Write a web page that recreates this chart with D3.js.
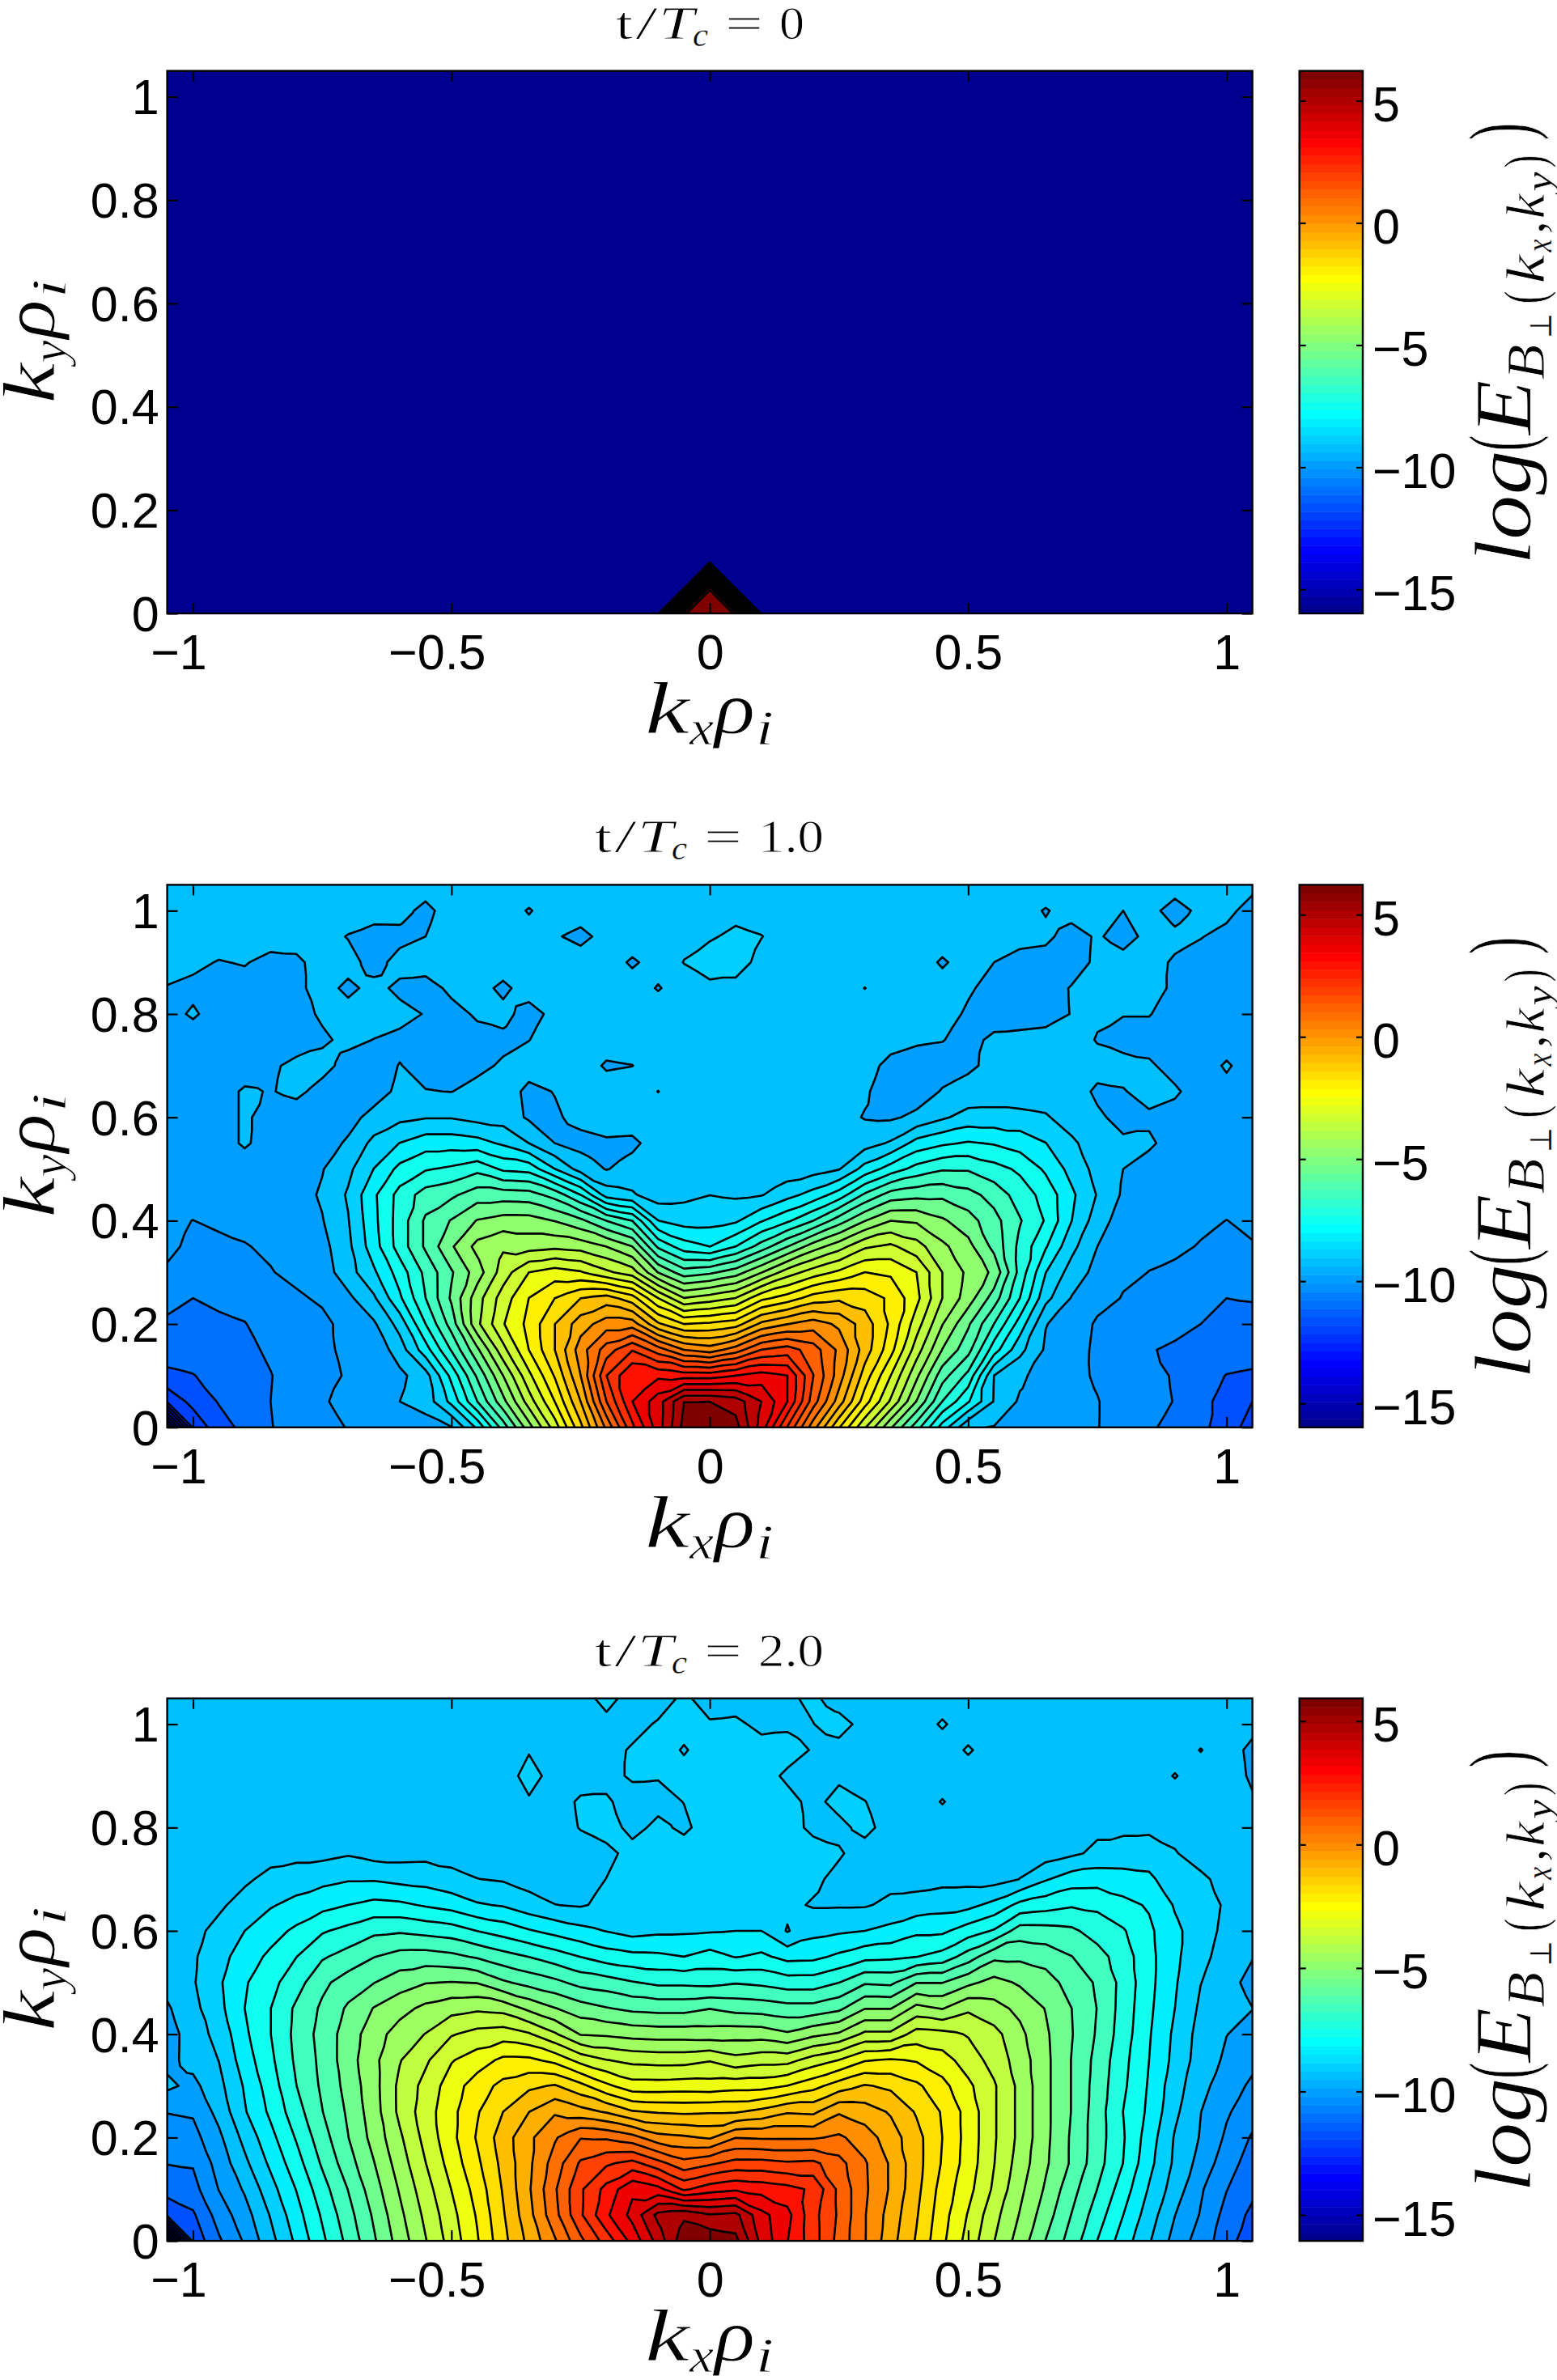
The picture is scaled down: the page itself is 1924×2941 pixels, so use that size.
<!DOCTYPE html>
<html>
<head>
<meta charset="utf-8">
<script src="https://cdn.jsdelivr.net/npm/d3@7"></script>
<style>
  body { margin: 0; background: #fff; }
  text { fill: #000; }
</style>
</head>
<body>
<svg id="chart" width="1924" height="2941"></svg>
<script>
// grid of the spectrum
const kxGrid = [-1.05,-1,-0.95,-0.9,-0.85,-0.8,-0.75,-0.7,-0.65,-0.6,-0.55,-0.5,-0.45,-0.4,-0.35,-0.3,-0.25,-0.2,-0.15,-0.1,-0.05,0,0.05,0.1,0.15,0.2,0.25,0.3,0.35,0.4,0.45,0.5,0.55,0.6,0.65,0.7,0.75,0.8,0.85,0.9,0.95,1,1.05];
const kyGrid = [0,0.05,0.1,0.15,0.2,0.25,0.3,0.35,0.4,0.45,0.5,0.55,0.6,0.65,0.7,0.75,0.8,0.85,0.9,0.95,1,1.05];

const xTicks = [-1, -0.5, 0, 0.5, 1];
const yTicks = [0, 0.2, 0.4, 0.6, 0.8, 1];
const colorTicks = [-15, -10, -5, 0, 5];
const panelTimes = ['0', '1.0', '2.0'];
const colorMins = [-15.98, -15.98, -16.05];
const colorMaxes = [6.22, 6.22, 5.92];

// t/Tc = 0: only the few modes around the origin are above the floor
const floorT0 = -15.98;
const peakT0 = [[0, 0, 6.22], [-0.05, 0, 5.6], [0.05, 0, 5.6], [0, 0.05, 5.6]];

// t/Tc = 1, rows from ky = 0 upward
const energyT1 = [
[-15.98,-12,-11.2,-10.85,-10.45,-10.25,-10.05,-9.85,-9.75,-9.6,-9.55,-9.35,-8.1,-6.3,-4.55,-2.95,-1.15,0.8,2.75,4.3,5.85,6.22,5.9,4.3,2.3,0.35,-1.5,-3.15,-4.8,-6.3,-7.9,-9.25,-9.35,-9.55,-9.7,-9.85,-9.85,-10.2,-10.35,-10.6,-10.85,-11.25,-11.8],
[-12,-11.35,-10.95,-10.75,-10.43,-10.2,-9.92,-9.75,-9.7,-9.32,-9.1,-8.05,-6.55,-5.05,-3.5,-2.1,-0.44,1.78,3.44,4.3,5.66,5.66,5.4,4.55,3.45,1.5,-0.15,-1.85,-3.3,-4.9,-6.55,-7.6,-8.8,-9.4,-9.4,-9.75,-9.85,-10.15,-10.25,-10.45,-10.85,-11.15,-11.54],
[-11.1,-11,-10.85,-10.7,-10.45,-10.2,-10.1,-9.8,-9.75,-9.45,-9,-7.5,-5.9,-4.33,-2.8,-1.5,0.11,2.33,3.44,3.33,3.2,3.2,3.45,3.7,3.45,1.8,0.4,-1.25,-2.66,-4.2,-5.75,-6.7,-8.77,-9.2,-9.6,-9.7,-9.95,-10.1,-10.2,-10.5,-10.8,-11,-11.05],
[-10.75,-10.8,-10.7,-10.55,-10.35,-10.25,-10.05,-9.7,-9.7,-9.05,-7.9,-6.5,-5,-3.4,-2.1,-1,0.4,1.5,2.3,1.5,0.67,0.4,0.95,1.8,2.05,1.5,0.55,-0.7,-1.9,-3.5,-4.9,-5.8,-7.4,-8.6,-9.4,-9.6,-10,-9.88,-10.4,-10.5,-10.6,-10.75,-10.8],
[-10.5,-10.6,-10.55,-10.45,-10.2,-10.15,-10,-9.7,-9.4,-8.55,-7.1,-5.75,-3.9,-2.7,-1.95,-1,-0.15,0.4,0.4,-0.9,-1.55,-1.45,-1.25,-0.3,0.1,0.4,0,-0.7,-1.65,-2.95,-4.3,-5.35,-6.55,-7.9,-9.3,-9.55,-9.95,-10.1,-10.2,-10.3,-10.43,-10.55,-10.6],
[-10.3,-10.43,-10.3,-10.25,-10,-9.95,-9.8,-9.45,-8.85,-7.75,-6.55,-5.35,-4,-2.95,-2.1,-1.55,-1,-0.75,-1.3,-2.66,-3.75,-3.5,-3.2,-2.25,-1.85,-1.3,-1.1,-1.25,-1.65,-2.5,-3.77,-4.6,-5.7,-7.1,-8.6,-9.35,-9.7,-9.9,-10.05,-10.1,-10.2,-10.43,-10.4],
[-9.95,-10.15,-10.2,-10.05,-9.9,-9.75,-9.6,-9,-8.3,-7.4,-6.4,-5.5,-4.6,-3.5,-2.66,-2.4,-2.6,-3.1,-3.5,-4.9,-5.75,-5.55,-5.15,-4.35,-3.5,-2.95,-2.55,-2.1,-2.2,-2.66,-3.77,-4.45,-5,-6.75,-8.2,-9,-9.5,-9.8,-9.88,-9.95,-10.05,-10.1,-10.05],
[-9.75,-10,-10,-9.9,-9.8,-9.6,-9.5,-8.9,-7.9,-6.85,-5.9,-4.95,-4.15,-3.85,-4,-3.9,-4,-4.33,-4.88,-6.65,-7.4,-7.66,-7.1,-6.3,-5.45,-4.6,-4,-3.3,-3.1,-3.55,-4.2,-4.7,-5.6,-6.7,-7.6,-8.6,-9.32,-9.7,-9.8,-9.8,-9.9,-10,-9.9],
[-9.8,-9.88,-9.78,-9.75,-9.7,-9.55,-9.35,-8.8,-7.8,-6.85,-5.9,-5.4,-4.85,-4.65,-4.65,-4.9,-5.3,-6,-6.55,-8.2,-8.45,-8.4,-8.3,-7.7,-7.2,-6.55,-5.7,-4.9,-4.33,-4.4,-4.8,-5.2,-5.8,-6.5,-7.15,-8.2,-9.05,-9.6,-9.7,-9.75,-9.8,-9.88,-9.8],
[-9.7,-9.7,-9.65,-9.65,-9.65,-9.55,-9.25,-8.7,-7.75,-6.9,-6.3,-6.1,-5.7,-5.7,-5.75,-6.2,-7.1,-8.45,-8.7,-9.05,-8.9,-8.77,-8.85,-8.8,-8.4,-8,-7.4,-6.45,-5.75,-5.6,-5.55,-5.8,-6.2,-6.8,-7.3,-8.1,-8.8,-9.4,-9.6,-9.7,-9.7,-9.7,-9.7],
[-9.65,-9.65,-9.6,-9.6,-9.6,-9.6,-9.35,-8.9,-8.2,-7.5,-7.15,-7,-6.7,-7.2,-7.3,-8.2,-9,-9.35,-9.1,-9,-9,-9.05,-9.05,-9,-9.1,-9,-8.8,-8,-7.4,-6.9,-6.6,-6.6,-6.9,-7.2,-7.75,-8.4,-8.95,-9.32,-9.5,-9.6,-9.65,-9.65,-9.65],
[-9.6,-9.6,-9.55,-9.25,-9.55,-9.6,-9.55,-9.25,-8.6,-8.2,-7.9,-7.9,-8,-8.3,-8.77,-9.32,-9.5,-9.4,-9.45,-9.05,-9,-9,-9,-9,-9.05,-9.05,-9.05,-9,-8.7,-8,-7.75,-7.6,-7.7,-7.9,-8.2,-8.65,-9.1,-9.25,-9.25,-9.5,-9.6,-9.6,-9.6],
[-9.6,-9.6,-9.55,-9.25,-9.5,-9.6,-9.6,-9.5,-9.15,-8.9,-8.8,-8.8,-8.95,-9,-9.4,-9.4,-9.15,-9.05,-9,-9,-9,-9,-9,-9,-9.05,-9.05,-9.15,-9.35,-9.4,-9.2,-8.85,-8.55,-8.55,-8.55,-8.7,-9.05,-9.25,-9.45,-9.4,-9.5,-9.6,-9.6,-9.6],
[-9.6,-9.6,-9.55,-9.25,-9.35,-9.2,-9.5,-9.6,-9.55,-9.2,-9.3,-9.33,-9.15,-9.05,-9.45,-9.3,-9.05,-9,-9,-9.33,-9,-9,-9,-9,-9,-9,-9.1,-9.25,-9.6,-9.6,-9.28,-9.15,-9.1,-9.2,-9.1,-9.1,-9.4,-9.35,-9.15,-9.25,-9.55,-9.5,-9.6],
[-9.55,-9.6,-9.65,-9.6,-9.4,-9.2,-9.15,-9.5,-9.55,-9.3,-9.5,-9.55,-9.45,-9.25,-9.1,-9.05,-9,-9.4,-9.33,-9,-9,-9,-9,-9,-9,-9,-9.05,-9.15,-9.45,-9.55,-9.55,-9.4,-9.2,-9.1,-9.1,-9.1,-9.15,-9.15,-9.25,-9.5,-9.6,-9.25,-9.6],
[-9.55,-9.6,-9.65,-9.65,-9.6,-9.55,-9.4,-9.2,-9.33,-9.45,-9.55,-9.55,-9.5,-9.45,-9.33,-9.1,-9,-9,-9,-9,-9,-9,-9,-9,-9,-9,-9,-9,-9.15,-9.25,-9.3,-9.5,-9.2,-9.15,-9.1,-9.1,-9.35,-9.5,-9.5,-9.6,-9.6,-9.6,-9.6],
[-9.5,-9.25,-9.55,-9.6,-9.6,-9.5,-9.25,-9.1,-9.1,-9.15,-9.35,-9.5,-9.25,-9.15,-9.55,-9.15,-9.05,-9,-9,-9,-9,-9,-9,-9,-9,-9,-9,-9,-9,-9,-9.1,-9.4,-9.6,-9.6,-9.55,-9.3,-9.25,-9.3,-9.3,-9.5,-9.6,-9.6,-9.6],
[-9.35,-9.45,-9.55,-9.55,-9.6,-9.45,-9.1,-9.45,-9.15,-9.45,-9.55,-9.2,-9.1,-9.45,-9.05,-9.05,-9,-9,-9.05,-9.36,-9.05,-8.95,-8.95,-9,-9,-9,-9,-9.33,-9,-9,-9.05,-9.25,-9.5,-9.65,-9.6,-9.28,-9.1,-9.1,-9.15,-9.4,-9.5,-9.55,-9.6],
[-9.1,-9.2,-9.35,-9.28,-9.5,-9.45,-9.05,-9.1,-9.55,-9.1,-9.05,-9,-9,-9,-9,-9,-9,-9.05,-9.4,-9.1,-8.75,-8.4,-8.5,-8.95,-9,-9,-9,-9,-9,-9,-9.4,-9.05,-9.32,-9.5,-9.55,-9.6,-9.2,-9.1,-9.1,-9.4,-9.5,-9.55,-9.6],
[-9.1,-9.1,-9.05,-9.05,-9.05,-9.05,-9.1,-9.35,-9.6,-9.5,-9.32,-9.05,-9.05,-9.1,-9.1,-9.25,-9.5,-9.1,-9,-8.95,-8.9,-8.85,-8.6,-8.75,-9,-9,-9,-9,-9,-9,-9,-9.05,-9.1,-9.15,-9.2,-9.55,-9.25,-9.55,-9.15,-9.15,-9.3,-9.45,-9.6],
[-9.1,-9.1,-9.05,-9,-9,-9,-9,-9,-9,-9.1,-9.5,-9,-9,-9.05,-9.36,-9.05,-9,-9,-9,-9,-9,-9,-9,-9,-9,-9,-9,-9,-9,-9,-9,-9,-9,-9.1,-9.36,-9.1,-9.1,-9.32,-9.1,-9.6,-9.15,-9.2,-9.5],
[-9,-9,-9,-9,-9,-9,-9,-9,-9,-9,-9,-9,-9,-9,-9,-9,-9,-9,-9,-9,-9,-9,-9,-9,-9,-9,-9,-9,-9,-9,-9,-9,-9,-9,-9,-9,-9,-9,-9,-9,-9,-9.1,-9.2]
];

// t/Tc = 2, rows from ky = 0 upward
const energyT2 = [
[-15.98,-11.5,-10.64,-9.94,-9.09,-8.25,-7.38,-6.56,-5.69,-4.82,-4,-3.18,-2.37,-1.39,-0.52,0.36,1.39,2.32,3.35,4.49,5.75,5.8,5.53,4.11,3.19,2.32,1.33,0.46,-0.46,-1.28,-2.2,-3.07,-3.95,-4.76,-5.63,-6.4,-7.27,-8.08,-8.85,-9.66,-10.26,-10.86,-11.5],
[-11.5,-11.19,-10.32,-9.69,-8.87,-8.03,-7.19,-6.37,-5.53,-4.65,-3.84,-3.05,-2.26,-1.28,-0.3,0.79,1.99,3.08,3.89,4.98,5.26,4.87,4.98,3.89,3.35,2.26,1.44,0.46,-0.35,-1.17,-2.1,-2.91,-3.78,-4.55,-5.36,-6.18,-6.99,-7.81,-8.63,-9.45,-10.05,-10.75,-11.24],
[-10.92,-10.75,-9.99,-9.39,-8.57,-7.79,-6.94,-6.15,-5.31,-4.46,-3.65,-2.86,-2.1,-1.17,-0.19,0.9,1.99,2.81,3.62,3.35,2.53,2.92,3.08,2.97,2.81,2.53,1.39,0.52,-0.19,-1.06,-1.99,-2.69,-3.51,-4.38,-5.14,-5.96,-6.72,-7.54,-8.41,-9.17,-9.94,-10.54,-10.97],
[-10.54,-10.51,-9.8,-9.04,-8.25,-7.49,-6.64,-5.85,-5.09,-4.25,-3.43,-2.64,-1.88,-1.06,-0.24,0.68,1.61,1.99,2.26,1.72,1.17,1.44,1.72,1.72,1.61,1.66,1.17,0.49,-0.19,-1.01,-1.82,-2.56,-3.4,-4.22,-4.98,-5.69,-6.5,-7.27,-8.2,-9.01,-9.66,-10.32,-10.81],
[-10.26,-10.2,-9.58,-8.74,-7.98,-7.21,-6.4,-5.63,-4.87,-4.06,-3.24,-2.48,-1.71,-0.95,-0.24,0.36,0.95,0.9,0.63,0.08,-0.03,-0.19,0.41,0.36,0.36,0.36,0.52,0.16,-0.41,-1.03,-1.77,-2.53,-3.35,-4.11,-4.93,-5.69,-6.45,-7.21,-8.08,-8.96,-9.5,-10.1,-10.62],
[-9.99,-9.94,-9.28,-8.41,-7.7,-6.94,-6.18,-5.53,-4.76,-3.84,-3.13,-2.48,-1.82,-1.22,-0.68,-0.19,-0.46,-0.73,-1.17,-1.28,-1.33,-1.28,-1.28,-1.06,-0.73,-0.79,-0.19,-0.41,-0.73,-1.28,-1.82,-2.53,-3.35,-4.11,-4.93,-5.63,-6.45,-7.27,-7.92,-8.79,-9.45,-9.94,-10.32],
[-9.34,-9.61,-9.07,-8.3,-7.54,-6.72,-6.07,-5.42,-4.71,-3.84,-3.24,-2.59,-2.04,-1.61,-1.33,-1.17,-1.61,-2.2,-2.64,-2.64,-2.59,-2.64,-2.53,-2.53,-2.31,-1.96,-1.5,-1.17,-1.33,-1.66,-2.15,-2.75,-3.35,-4.11,-4.93,-5.63,-6.4,-7.16,-7.87,-8.68,-9.28,-9.77,-10.1],
[-9.61,-9.28,-8.9,-8.08,-7.38,-6.61,-6.02,-5.31,-4.65,-4,-3.51,-2.91,-2.59,-2.2,-2.2,-2.48,-3.07,-3.4,-3.57,-3.62,-3.62,-3.46,-3.78,-3.62,-3.62,-3.18,-2.86,-2.37,-2.26,-2.37,-2.64,-3.13,-3.62,-4.22,-4.93,-5.63,-6.34,-7.1,-7.81,-8.52,-9.17,-9.55,-9.88],
[-9.72,-9.17,-8.74,-7.92,-7.27,-6.56,-5.96,-5.36,-4.76,-4.27,-3.95,-3.46,-3.24,-3.13,-3.35,-3.89,-4.55,-4.6,-4.71,-4.76,-4.76,-4.82,-4.74,-4.76,-4.98,-4.65,-4.44,-3.84,-3.84,-3.18,-3.24,-3.46,-3.78,-4.38,-4.98,-5.58,-6.23,-6.99,-7.76,-8.47,-9.12,-9.45,-9.61],
[-9.53,-9.07,-8.52,-7.81,-7.27,-6.61,-6.07,-5.53,-5.04,-4.71,-4.38,-4.16,-4.06,-4.16,-4.65,-5.04,-5.36,-5.58,-5.74,-5.8,-5.8,-5.63,-5.8,-5.85,-5.96,-5.96,-5.74,-5.09,-5.09,-4.33,-4.55,-4.06,-4.33,-4.65,-5.09,-5.61,-6.18,-6.94,-7.7,-8.36,-9.01,-9.23,-9.45],
[-9.28,-8.96,-8.44,-7.87,-7.43,-6.94,-6.29,-5.91,-5.63,-5.31,-5.09,-5.04,-5.09,-5.53,-5.8,-6.02,-6.34,-6.45,-6.67,-6.83,-6.83,-6.89,-6.75,-6.83,-6.99,-6.99,-6.72,-6.23,-6.29,-5.63,-5.63,-5.2,-4.87,-5.14,-5.36,-5.85,-6.23,-6.89,-7.65,-8.3,-8.9,-9.17,-9.72],
[-9.28,-8.98,-8.57,-8.08,-7.7,-7.27,-6.78,-6.5,-6.18,-5.96,-5.91,-6.02,-6.23,-6.5,-6.72,-6.99,-7.27,-7.54,-7.65,-7.7,-7.81,-7.59,-7.84,-7.7,-7.98,-7.95,-7.7,-7.43,-7.38,-7.27,-7.05,-6.45,-5.74,-5.72,-5.85,-6.15,-6.5,-6.99,-7.65,-8.25,-8.74,-9.17,-9.42],
[-9.28,-9.07,-8.74,-8.36,-8.03,-7.7,-7.32,-7.1,-6.83,-6.78,-6.89,-6.99,-7.27,-7.49,-7.76,-7.98,-8.2,-8.38,-8.57,-8.47,-8.44,-8.41,-8.36,-8.36,-8.95,-8.52,-8.44,-8.36,-8.2,-7.92,-7.92,-7.54,-7.21,-6.45,-6.5,-6.61,-6.94,-7.21,-7.7,-8.25,-8.63,-9.07,-9.34],
[-9.28,-9.12,-9.01,-8.68,-8.41,-8.2,-7.98,-7.81,-7.65,-7.7,-7.87,-8.03,-8.3,-8.41,-8.68,-8.9,-8.96,-8.79,-8.74,-8.74,-8.74,-8.74,-8.74,-8.74,-8.79,-8.96,-8.96,-8.96,-8.79,-8.68,-8.57,-8.52,-8.2,-7.65,-7.49,-7.32,-7.38,-7.65,-7.87,-8.41,-8.57,-9.01,-9.34],
[-9.23,-9.17,-9.12,-9.01,-8.74,-8.63,-8.52,-8.41,-8.41,-8.52,-8.57,-8.74,-8.9,-8.96,-9.12,-9.17,-9.17,-8.9,-8.68,-8.68,-8.68,-8.68,-8.68,-8.68,-8.68,-8.79,-9.07,-9.12,-9.07,-9.12,-9.07,-9.07,-9.12,-8.9,-8.41,-8.08,-8.03,-8.14,-8.25,-8.68,-8.79,-9.12,-9.28],
[-9.28,-9.23,-9.2,-9.2,-9.12,-9.07,-9.07,-8.96,-9.12,-9.12,-9.07,-9.12,-9.17,-9.17,-9.17,-9.17,-9.17,-9.05,-8.74,-8.68,-8.68,-8.68,-8.68,-8.68,-8.68,-8.74,-8.85,-9.15,-9.17,-9.17,-9.17,-9.15,-9.15,-9.15,-9.17,-9.01,-8.79,-8.68,-8.63,-8.87,-9.17,-9.17,-9.34],
[-9.28,-9.2,-9.17,-9.17,-9.17,-9.17,-9.17,-9.17,-9.17,-9.17,-9.17,-9.17,-9.17,-9.17,-9.17,-9.17,-8.88,-8.7,-9.05,-8.8,-9,-8.7,-8.7,-8.7,-8.75,-9,-9.05,-8.75,-9.15,-9.17,-9.17,-9.17,-9.17,-9.17,-9.17,-9.17,-9.02,-9.02,-9.02,-9.1,-9.17,-9.17,-9.3],
[-9.25,-9.2,-9.17,-9.17,-9.17,-9.17,-9.17,-9.17,-9.17,-9.17,-9.17,-9.17,-9.17,-9.17,-8.97,-9.1,-8.85,-8.85,-9.1,-9.05,-8.9,-8.7,-8.7,-8.7,-8.75,-9.05,-8.75,-8.9,-9.1,-9.17,-8.88,-9.17,-9.17,-9.17,-9.17,-9.17,-9.17,-9.17,-9.17,-9.17,-9.17,-9.17,-9.39],
[-9.25,-9.2,-9.17,-9.17,-9.17,-9.17,-9.17,-9.17,-9.17,-9.17,-9.17,-9.17,-9.17,-9.17,-8.72,-9.1,-9.1,-9.05,-8.85,-8.88,-8.75,-8.7,-8.7,-8.7,-9,-9.1,-9,-9.1,-9.17,-9.17,-9.17,-9.17,-9.17,-9.17,-9.17,-9.17,-9.17,-9.17,-9.17,-8.88,-9.17,-9.17,-9.55],
[-9.25,-9.2,-9.17,-9.17,-9.17,-9.17,-9.17,-9.17,-9.17,-9.17,-9.17,-9.17,-9.17,-9.17,-8.95,-9.15,-9.15,-9.1,-8.85,-8.7,-8.95,-8.7,-8.7,-8.7,-8.7,-8.95,-9.1,-9.17,-9.17,-9.17,-9.17,-8.85,-9.17,-9.17,-9.17,-9.17,-9.17,-9.17,-9.17,-9.17,-8.89,-9.2,-9.6],
[-9.25,-9.2,-9.17,-9.17,-9.17,-9.17,-9.17,-9.17,-9.17,-9.17,-9.17,-9.17,-9.17,-9.17,-9.17,-9.17,-9.17,-9.1,-9.1,-8.85,-8.75,-8.85,-8.8,-9.05,-9,-8.92,-8.7,-9.1,-9.17,-9.17,-8.85,-9.17,-9.17,-9.17,-9.17,-9.17,-9.17,-9.17,-9.17,-9.17,-9.17,-9.17,-9.28],
[-9.2,-9.2,-9.17,-9.17,-9.17,-9.17,-9.17,-9.17,-9.17,-9.17,-9.17,-9.17,-9.17,-9.17,-9.17,-9.17,-9.17,-8.7,-9.17,-9.17,-8.8,-9.17,-9.17,-9.17,-9,-8.8,-9.17,-9.17,-9.17,-9.17,-9.17,-9.17,-9.17,-9.17,-9.17,-9.17,-9.17,-9.17,-9.17,-9.17,-9.17,-9.17,-9.25]
];

const levelCount = 40;
const plotLeft = 206.6, plotRight = 1547.6, plotHeight = 670.4;
const barLeft = 1605.7, barRight = 1684;
const panelTops = [87.6, 1093.4, 2098.7];

const svg = d3.select('#chart');
const serif = '"Liberation Serif", serif';
const sans = '"Liberation Sans", sans-serif';

// MATLAB jet with 64 entries
function jet(index) {
  const i = index + 1;
  const r = i <= 24 ? 0 : i <= 40 ? (i - 24) / 16 : i <= 56 ? 1 : 1 - (i - 56) / 16;
  const g = i <= 8 ? 0 : i <= 24 ? (i - 8) / 16 : i <= 40 ? 1 : i <= 56 ? 1 - (i - 40) / 16 : 0;
  const b = i <= 8 ? 0.5 + i / 16 : i <= 24 ? 1 : i <= 40 ? 1 - (i - 24) / 16 : 0;
  return d3.rgb(r * 255, g * 255, b * 255).formatHex();
}

function levelColor(k) {
  if (k >= levelCount - 1) return jet(63);
  return jet(Math.floor(k * 64 / levelCount));
}

function formatTick(d) {
  return d < 0 ? '\u2212' + Math.abs(d) : String(d);
}

// marching squares helper: add cell and edge centres so that saddle cells
// are decided by the cell median, nothing changes along the grid lines
function tracingGrid(rows) {
  const ny = rows.length, nx = rows[0].length;
  const values = [];
  for (let j = 0; j < 2 * ny - 1; j++) {
    for (let i = 0; i < 2 * nx - 1; i++) {
      const i0 = Math.floor(i / 2), i1 = Math.ceil(i / 2);
      const j0 = Math.floor(j / 2), j1 = Math.ceil(j / 2);
      values.push(d3.median([rows[j0][i0], rows[j0][i1], rows[j1][i0], rows[j1][i1]]));
    }
  }
  return { values, nx: 2 * nx - 1, ny: 2 * ny - 1, div: 2 };
}

// a math label put together from pieces placed along one baseline
function drawPieces(g, pieces) {
  pieces.forEach(p => {
    const t = g.append('text')
      .attr('x', p.x)
      .attr('y', p.y || 0)
      .attr('font-family', p.font || serif)
      .attr('font-style', p.roman ? 'normal' : 'italic')
      .attr('font-size', p.size)
      .attr('stroke', '#fff')
      .attr('stroke-width', p.size > 50 ? 0.9 : 0.3)
      .text(p.t);
    if (p.w) t.attr('textLength', p.w).attr('lengthAdjust', 'spacingAndGlyphs');
  });
}

function drawPanel(panelIndex, rows) {
  const top = panelTops[panelIndex];
  const bottom = top + plotHeight;
  const colorMin = colorMins[panelIndex];
  const colorMax = colorMaxes[panelIndex];
  const x = d3.scaleLinear().domain([-1.05, 1.05]).range([plotLeft, plotRight]);
  const y = d3.scaleLinear().domain([0, 1.05]).range([bottom, top]);
  const color = d3.scaleLinear().domain([colorMin, colorMax]).range([bottom, top]);
  const g = svg.append('g');

  rows.forEach(r => {
    if (r.length !== kxGrid.length) throw new Error('bad row length ' + r.length);
  });

  const clipId = 'clip' + panelIndex;
  g.append('clipPath').attr('id', clipId).append('rect')
    .attr('x', plotLeft).attr('y', top)
    .attr('width', plotRight - plotLeft).attr('height', plotHeight);

  // filled contours, lowest band first
  const levels = d3.range(1, levelCount).map(k => colorMin + k * (colorMax - colorMin) / levelCount);
  const grid = tracingGrid(rows);
  const contours = d3.contours()
    .size([grid.nx, grid.ny])
    .thresholds(levels)(grid.values);
  const kxStep = (kxGrid[1] - kxGrid[0]) / grid.div;
  const kyStep = (kyGrid[1] - kyGrid[0]) / grid.div;
  const path = d3.geoPath(d3.geoTransform({
    point(px, py) {
      this.stream.point(x(kxGrid[0] + (px - 0.5) * kxStep), y(kyGrid[0] + (py - 0.5) * kyStep));
    }
  }));
  const plot = g.append('g').attr('clip-path', `url(#${clipId})`);
  plot.append('rect')
    .attr('x', plotLeft).attr('y', top)
    .attr('width', plotRight - plotLeft).attr('height', plotHeight)
    .attr('fill', levelColor(0));
  plot.selectAll('path')
    .data(contours)
    .enter()
    .append('path')
    .attr('d', path)
    .attr('fill', (d, i) => levelColor(i + 1))
    .attr('stroke', '#000')
    .attr('stroke-width', 2.6)
    .attr('stroke-linejoin', 'round');

  // axes
  const styleAxis = sel => {
    sel.select('.domain').remove();
    sel.selectAll('line').attr('stroke', '#000').attr('stroke-width', 2.2);
    sel.selectAll('text').attr('font-family', sans).attr('font-size', 61).attr('fill', '#000');
  };
  const bottomAxis = g.append('g').attr('transform', `translate(0,${bottom})`)
    .call(d3.axisBottom(x).tickValues(xTicks).tickFormat(formatTick).tickSizeInner(-13).tickSizeOuter(0).tickPadding(26))
    .call(styleAxis);
  bottomAxis.selectAll('text').attr('dx', d => d < 0 ? -18 : 0);
  g.append('g').attr('transform', `translate(0,${top})`)
    .call(d3.axisTop(x).tickValues(xTicks).tickFormat('').tickSizeInner(-13).tickSizeOuter(0))
    .call(styleAxis);
  g.append('g').attr('transform', `translate(${plotLeft},0)`)
    .call(d3.axisLeft(y).tickValues(yTicks).tickFormat(formatTick).tickSizeInner(-13).tickSizeOuter(0).tickPadding(10))
    .call(styleAxis)
    .selectAll('text').attr('dy', '.35em');
  g.append('g').attr('transform', `translate(${plotRight},0)`)
    .call(d3.axisRight(y).tickValues(yTicks).tickFormat('').tickSizeInner(-13).tickSizeOuter(0))
    .call(styleAxis);
  g.append('rect')
    .attr('x', plotLeft).attr('y', top)
    .attr('width', plotRight - plotLeft).attr('height', plotHeight)
    .attr('fill', 'none').attr('stroke', '#000').attr('stroke-width', 2.4);

  // title
  const title = g.append('g').attr('transform', `translate(${panelIndex === 0 ? 761 : 735},${top - 40})`);
  drawPieces(title, [
    { t: 't', x: 0, size: 58, roman: true, w: 21 },
    { t: '/', x: 24, size: 58, roman: true, w: 28 },
    { t: 'T', x: 53, size: 58, w: 44 },
    { t: 'c', x: 95, y: 9, size: 40, w: 19 },
    { t: '=', x: 135, size: 58, roman: true, w: 47 },
    { t: panelTimes[panelIndex], x: 202, size: 58, roman: true, w: panelIndex === 0 ? 31 : 81 }
  ]);

  // axis labels
  const xLabel = g.append('g').attr('transform', `translate(797,${bottom + 148})`);
  drawPieces(xLabel, [
    { t: 'k', x: 0, size: 92, w: 55 },
    { t: 'x', x: 55, y: 14, size: 62, w: 30 },
    { t: '\u03c1', x: 86, size: 92, w: 50 },
    { t: 'i', x: 137, y: 14, size: 62, w: 22 }
  ]);
  const yLabel = g.append('g').attr('transform', `translate(67,${top + 411}) rotate(-90)`);
  drawPieces(yLabel, [
    { t: 'k', x: 0, size: 92, w: 50 },
    { t: 'y', x: 50, y: 14, size: 62, w: 28 },
    { t: '\u03c1', x: 80, size: 92, w: 48 },
    { t: 'i', x: 130, y: 14, size: 62, w: 24 }
  ]);

  // colorbar
  const bandHeight = (colorMax - colorMin) / 64;
  g.append('g').selectAll('rect')
    .data(d3.range(64))
    .enter()
    .append('rect')
    .attr('x', barLeft)
    .attr('width', barRight - barLeft)
    .attr('y', d => color(colorMin + (d + 1) * bandHeight))
    .attr('height', (bottom - top) / 64 + 0.5)
    .attr('fill', d => jet(d));
  g.append('g').attr('transform', `translate(${barRight},0)`)
    .call(d3.axisRight(color).tickValues(colorTicks).tickFormat(formatTick).tickSizeInner(-8).tickSizeOuter(0).tickPadding(12))
    .call(styleAxis)
    .selectAll('text').attr('dy', '.41em');
  g.append('g').attr('transform', `translate(${barLeft},0)`)
    .call(d3.axisLeft(color).tickValues(colorTicks).tickFormat('').tickSizeInner(-8).tickSizeOuter(0))
    .call(styleAxis);
  g.append('rect')
    .attr('x', barLeft).attr('y', top)
    .attr('width', barRight - barLeft).attr('height', plotHeight)
    .attr('fill', 'none').attr('stroke', '#000').attr('stroke-width', 2.4);

  const barLabel = g.append('g').attr('transform', `translate(1891,${top + 610}) rotate(-90)`);
  drawPieces(barLabel, [
    { t: 'log', x: 0, size: 100, w: 141 },
    { t: '(', x: 140, size: 110, roman: true, w: 20 },
    { t: 'E', x: 160, size: 100, w: 68 },
    { t: 'B', x: 228, y: 17, size: 68, w: 44 },
    { t: '\u22a5', x: 279, y: 26, size: 38, roman: true, font: '"DejaVu Serif", serif', w: 32 },
    { t: '(', x: 322, y: 17, size: 72, roman: true, w: 16 },
    { t: 'k', x: 347, y: 17, size: 68, w: 36 },
    { t: 'x', x: 386, y: 26, size: 46, w: 16 },
    { t: ',', x: 408, y: 17, size: 68, roman: true },
    { t: 'k', x: 427, y: 17, size: 68, w: 31 },
    { t: 'y', x: 461, y: 26, size: 46, w: 24 },
    { t: ')', x: 490, y: 17, size: 72, roman: true, w: 16 },
    { t: ')', x: 524, size: 110, roman: true, w: 22 }
  ]);
}

// t/Tc = 0 table: floor everywhere except the few listed modes
const energyT0 = kyGrid.map(ky => kxGrid.map(kx => {
  const hit = peakT0.find(p => Math.abs(p[0] - kx) < 1e-6 && Math.abs(p[1] - ky) < 1e-6);
  return hit ? hit[2] : floorT0;
}));

drawPanel(0, energyT0);
drawPanel(1, energyT1);
drawPanel(2, energyT2);
</script>
</body>
</html>
